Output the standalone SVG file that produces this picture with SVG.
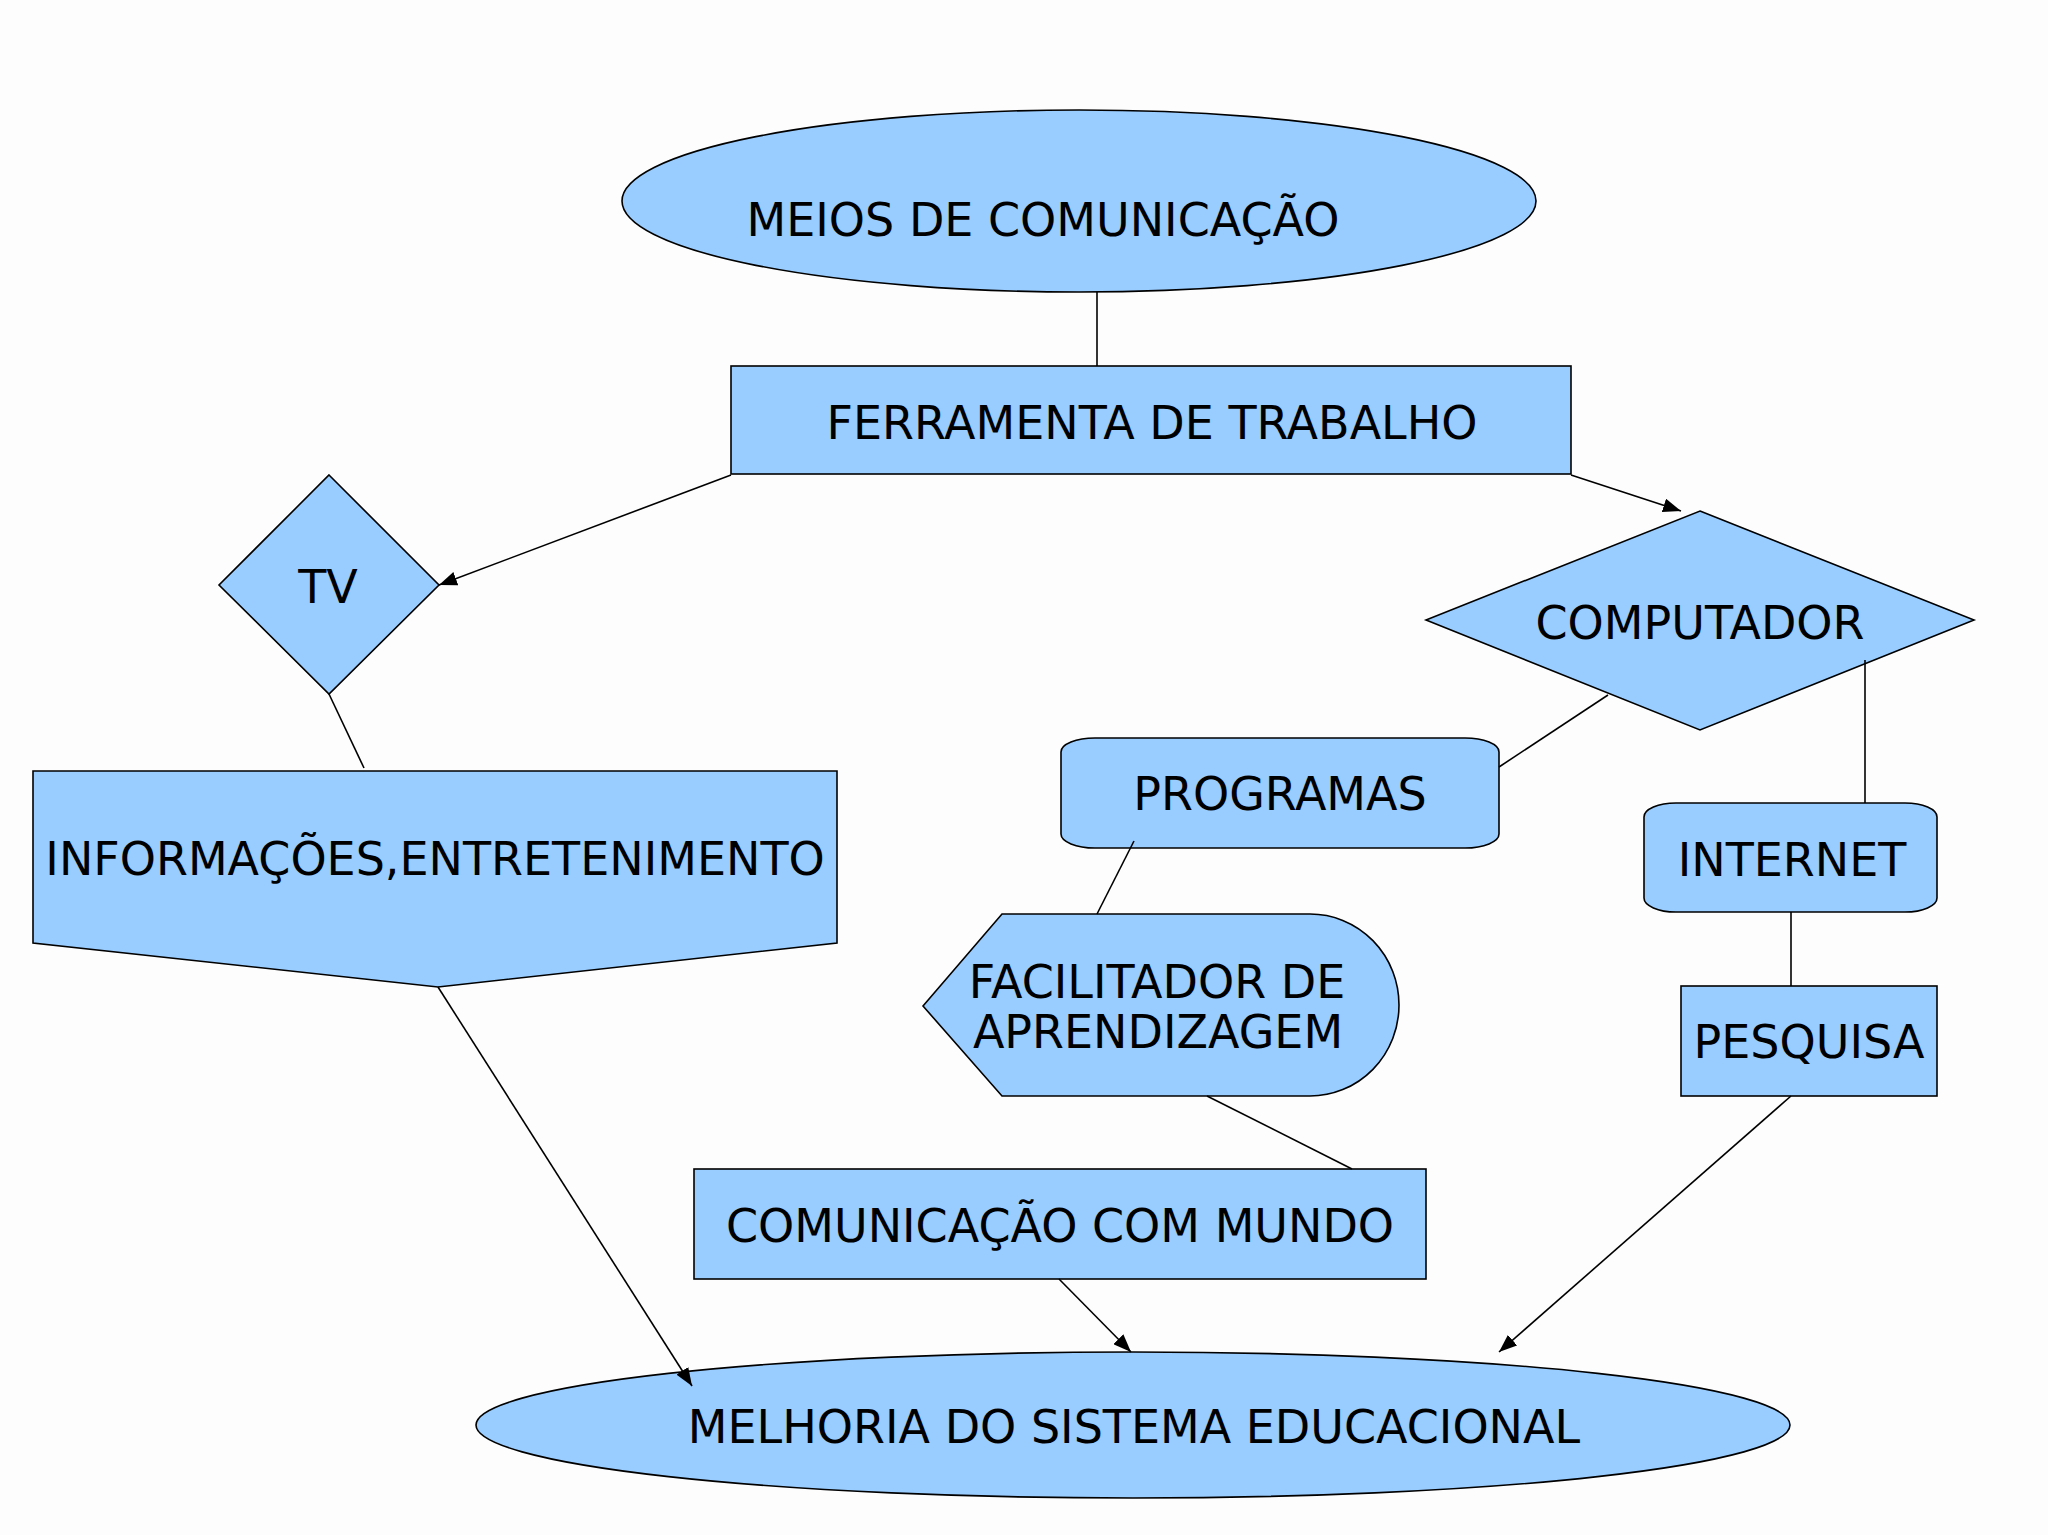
<svg xmlns="http://www.w3.org/2000/svg" width="2048" height="1535" viewBox="0 0 2048 1535">
<defs>
<style>
.n{fill:#99ccff;stroke:#000;stroke-width:1.6}
.t{font-family:"DejaVu Sans",Verdana,sans-serif;font-size:46px;fill:#000;text-anchor:middle}
.c{stroke:#000;stroke-width:1.6;fill:none}
</style>
<marker id="ah" markerUnits="userSpaceOnUse" markerWidth="20" markerHeight="14" refX="18" refY="7" orient="auto">
<path d="M0,0 L18,7 L0,14 Z" fill="#000"/>
</marker>
</defs>
<rect width="2048" height="1535" fill="#fdfdfd"/>
<g id="meios">
<ellipse class="n" cx="1079" cy="201" rx="457" ry="91"/>
<text class="t" x="1043" y="236">MEIOS DE COMUNICAÇÃO</text>
</g>
<g id="ferramenta">
<rect class="n" x="731" y="366" width="840" height="108"/>
<text class="t" x="1152" y="439">FERRAMENTA DE TRABALHO</text>
</g>
<g id="tv">
<polygon class="n" points="329,475 439,585 329,694 219,585"/>
<text class="t" x="328" y="603">TV</text>
</g>
<g id="computador">
<polygon class="n" points="1700,511 1974,620 1700,730 1426,620"/>
<text class="t" x="1700" y="639">COMPUTADOR</text>
</g>
<g id="programas">
<rect class="n" x="1061" y="738" width="438" height="110" rx="34" ry="14"/>
<text class="t" x="1280" y="810">PROGRAMAS</text>
</g>
<g id="internet">
<rect class="n" x="1644" y="803" width="293" height="109" rx="32" ry="14"/>
<text class="t" x="1792" y="876">INTERNET</text>
</g>
<g id="informacoes">
<polygon class="n" points="33,771 837,771 837,943 438,987 33,943"/>
<text class="t" x="435" y="875">INFORMAÇÕES,ENTRETENIMENTO</text>
</g>
<g id="facilitador">
<path class="n" d="M923,1006 L1002,914 L1310,914 A89,91 0 0 1 1310,1096 L1002,1096 Z"/>
<text class="t" x="1157" y="998">FACILITADOR DE</text>
<text class="t" x="1158" y="1048">APRENDIZAGEM</text>
</g>
<g id="pesquisa">
<rect class="n" x="1681" y="986" width="256" height="110"/>
<text class="t" x="1809" y="1058">PESQUISA</text>
</g>
<g id="comunicacao">
<rect class="n" x="694" y="1169" width="732" height="110"/>
<text class="t" x="1060" y="1242">COMUNICAÇÃO COM MUNDO</text>
</g>
<g id="melhoria">
<ellipse class="n" cx="1133" cy="1425" rx="657" ry="73"/>
<text class="t" x="1134" y="1443">MELHORIA DO SISTEMA EDUCACIONAL</text>
</g>
<g id="connectors">
<line class="c" x1="1097" y1="292" x2="1097" y2="366"/>
<line class="c" x1="731" y1="475" x2="439" y2="585" marker-end="url(#ah)"/>
<line class="c" x1="1571" y1="475" x2="1681" y2="511" marker-end="url(#ah)"/>
<line class="c" x1="329" y1="694" x2="364" y2="768"/>
<line class="c" x1="1608" y1="695" x2="1499" y2="767"/>
<line class="c" x1="1865" y1="660" x2="1865" y2="803"/>
<line class="c" x1="1791" y1="912" x2="1791" y2="986"/>
<line class="c" x1="1134" y1="841" x2="1097" y2="914"/>
<line class="c" x1="1207" y1="1096" x2="1352" y2="1169"/>
<line class="c" x1="438" y1="987" x2="692" y2="1386" marker-end="url(#ah)"/>
<line class="c" x1="1059" y1="1279" x2="1131" y2="1352" marker-end="url(#ah)"/>
<line class="c" x1="1791" y1="1096" x2="1499" y2="1352" marker-end="url(#ah)"/>
</g>
</svg>
